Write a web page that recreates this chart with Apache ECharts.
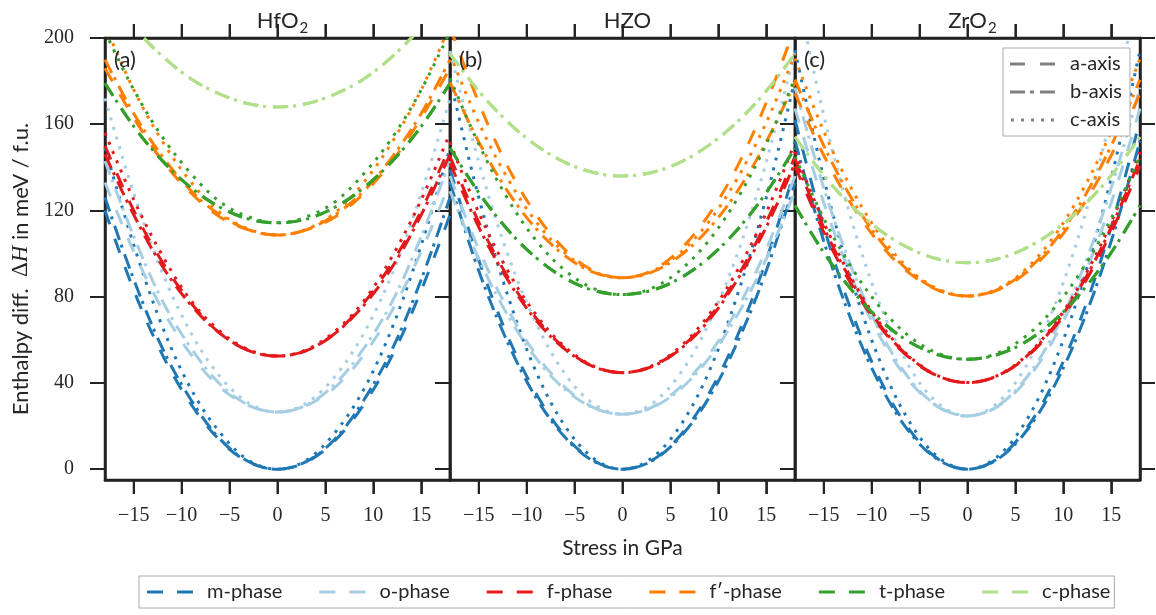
<!DOCTYPE html>
<html>
<head>
<meta charset="utf-8">
<script src="https://cdn.jsdelivr.net/npm/echarts@6/dist/echarts.min.js"></script>
<style>html,body{margin:0;padding:0;background:#fff}#chart{width:1156px;height:615px}</style>
</head>
<body>
<div id="chart"></div>
<script>
// ---- data ----
const stress = [-18, -15, -12, -9, -6, -3, 0, 3, 6, 9, 12, 15, 18];
const xTicks = [-15, -10, -5, 0, 5, 10, 15];
const yTicks = [0, 40, 80, 120, 160, 200];
const panelTitles = ['{n|HfO}{s|2}', '{n|HZO}', '{n|ZrO}{s|2}'];
const panelLabels = ['(a)', '(b)', '(c)'];
const phaseNames = ['m-phase', 'o-phase', 'f-phase', 'f\u2032-phase', 't-phase', 'c-phase'];
const axisNames = ['a-axis', 'b-axis', 'c-axis'];
const phaseColors = ['#1f78b4', '#a6cee3', '#e31a1c', '#ff7f00', '#33a02c', '#b2df8a'];

// HfO2
const hfo2_m_a = [120, 83, 53, 30, 13.3, 3.3, 0, 3.3, 13.3, 30, 53, 83, 118];
const hfo2_m_b = [126, 88, 56, 32, 14, 3.5, 0, 3.5, 14, 32, 56, 88, 126];
const hfo2_m_c = [149, 104, 66, 37, 17, 4.1, 0, 4.1, 17, 37, 66, 104, 149];
const hfo2_o_a = [133, 101, 74, 53, 38, 29.5, 26.5, 29.5, 38, 53, 74, 101, 133];
const hfo2_o_b = [143, 108, 78, 56, 39.5, 29.7, 26.5, 29.7, 39.5, 56, 78, 108, 143];
const hfo2_o_c = [172, 128, 91, 63, 43, 30.6, 26.5, 30.6, 43, 63, 91, 128, 172];
const hfo2_f_a = [150, 120, 96, 77, 63, 55, 52.5, 55, 63, 77, 96, 120, 150];
const hfo2_f_b = [146, 118, 94, 76, 63, 55, 52.5, 55, 63, 76, 94, 118, 146];
const hfo2_f_c = [156, 125, 99, 78, 64, 55.4, 52.5, 55.4, 64, 78, 99, 125, 156];
const hfo2_fp_a = [186, 163, 143, 128, 117, 111, 108.6, 111, 117, 128, 143, 163, 186];
const hfo2_fp_b = [190, 165, 145, 129, 118, 111, 108.6, 111, 118, 129, 145, 165, 190];
const hfo2_fp_c = [206, 176, 152, 133, 119, 111.3, 108.6, 111.3, 119, 133, 152, 176, 206];
const hfo2_t_a = [179, 159, 143, 130.5, 121.5, 116, 114.3, 116, 121.5, 130.5, 143, 159, 179];
const hfo2_t_b = [179, 159, 143, 130.5, 121.5, 116, 114.3, 116, 121.5, 130.5, 143, 159, 179];
const hfo2_t_c = [203, 176, 154, 137, 124, 117, 114.3, 117, 124, 137, 154, 176, 203];
const hfo2_c_a = [221, 205, 191.5, 181, 174, 169.5, 168, 169.5, 174, 181, 191.5, 205, 221];
const hfo2_c_b = [221, 205, 191.5, 181, 174, 169.5, 168, 169.5, 174, 181, 191.5, 205, 221];
const hfo2_c_c = [221, 205, 191.5, 181, 174, 169.5, 168, 169.5, 174, 181, 191.5, 205, 221];

// HZO
const hzo_m_a = [139, 97, 62, 35, 15.5, 3.9, 0, 3.9, 15.5, 35, 62, 97, 139];
const hzo_m_b = [133, 92, 59, 33, 14.8, 3.7, 0, 3.7, 14.8, 33, 59, 92, 133];
const hzo_m_c = [181, 126, 81, 45, 20, 5, 0, 5, 20, 45, 81, 126, 181];
const hzo_o_a = [136, 102, 74.5, 53, 38, 28.6, 25.5, 28.6, 38, 53, 74.5, 102, 136];
const hzo_o_b = [129, 97.5, 71.6, 51.4, 37, 28.4, 25.5, 28.4, 37, 51.4, 71.6, 97.5, 129];
const hzo_o_c = [194, 142.5, 100, 67.6, 44.2, 30.2, 25.5, 30.2, 44.2, 67.6, 100, 142.5, 194];
const hzo_f_a = [145, 114.6, 89.4, 70, 56, 47.6, 44.8, 47.6, 56, 70, 89.4, 114.6, 145];
const hzo_f_b = [142, 112.3, 88, 69, 55.6, 47.5, 44.8, 47.5, 55.6, 69, 88, 112.3, 142];
const hzo_f_c = [151.7, 119, 92.3, 71.5, 56.7, 47.8, 44.8, 47.8, 56.7, 71.5, 92.3, 119, 151.7];
const hzo_fp_a = [205, 170, 140.6, 118, 101.8, 92, 88.8, 92, 101.8, 118, 140.6, 170, 205];
const hzo_fp_b = [179.5, 151.8, 129, 111.5, 99, 91.3, 88.8, 91.3, 99, 111.5, 129, 151.8, 179.5];
const hzo_fp_c = [192.5, 160.8, 135, 114.7, 100.3, 91.7, 88.8, 91.7, 100.3, 114.7, 135, 160.8, 192.5];
const hzo_t_a = [149, 128.3, 111.2, 98, 88.6, 82.9, 81, 82.9, 88.6, 98, 111.2, 128.3, 149];
const hzo_t_b = [149, 128.3, 111.2, 98, 88.6, 82.9, 81, 82.9, 88.6, 98, 111.2, 128.3, 149];
const hzo_t_c = [181.4, 150.8, 125.6, 106, 92.2, 83.8, 81, 83.8, 92.2, 106, 125.6, 150.8, 181.4];
const hzo_c_a = [192.7, 175.4, 161.2, 150.2, 142.3, 137.6, 136, 137.6, 142.3, 150.2, 161.2, 175.4, 192.7];
const hzo_c_b = [192.7, 175.4, 161.2, 150.2, 142.3, 137.6, 136, 137.6, 142.3, 150.2, 161.2, 175.4, 192.7];
const hzo_c_c = [192.7, 175.4, 161.2, 150.2, 142.3, 137.6, 136, 137.6, 142.3, 150.2, 161.2, 175.4, 192.7];

// ZrO2
const zro2_m_a = [162, 112.5, 72, 40.5, 18, 4.5, 0, 4.5, 18, 40.5, 72, 112.5, 162];
const zro2_m_b = [152.3, 105.8, 67.7, 38.1, 16.9, 4.2, 0, 4.2, 16.9, 38.1, 67.7, 105.8, 152.3];
const zro2_m_c = [194.4, 135, 86.4, 48.6, 21.6, 5.4, 0, 5.4, 21.6, 48.6, 86.4, 135, 194.4];
const zro2_o_a = [167.3, 123.7, 88.1, 60.3, 40.5, 28.7, 24.7, 28.7, 40.5, 60.3, 88.1, 123.7, 167.3];
const zro2_o_b = [177, 130.5, 92.4, 62.8, 41.6, 28.9, 24.7, 28.9, 41.6, 62.8, 92.4, 130.5, 177];
const zro2_o_c = [225.6, 164.2, 114, 74.9, 47, 30.3, 24.7, 30.3, 47, 74.9, 114, 164.2, 225.6];
const zro2_f_a = [140.6, 110, 84.8, 65.3, 51.4, 43, 40.2, 43, 51.4, 65.3, 84.8, 110, 140.6];
const zro2_f_b = [143.9, 112.2, 86.3, 66.1, 51.7, 43.1, 40.2, 43.1, 51.7, 66.1, 86.3, 112.2, 143.9];
const zro2_f_c = [147.1, 114.5, 87.7, 66.9, 52.1, 43.2, 40.2, 43.2, 52.1, 66.9, 87.7, 114.5, 147.1];
const zro2_fp_a = [174.3, 145.6, 122.1, 103.8, 90.7, 82.9, 80.3, 82.9, 90.7, 103.8, 122.1, 145.6, 174.3];
const zro2_fp_b = [180.7, 150.1, 124.9, 105.4, 91.5, 83.1, 80.3, 83.1, 91.5, 105.4, 124.9, 150.1, 180.7];
const zro2_fp_c = [190.5, 156.8, 129.3, 107.8, 92.5, 83.4, 80.3, 83.4, 92.5, 107.8, 129.3, 156.8, 190.5];
const zro2_t_a = [122.3, 100.5, 82.7, 68.8, 58.9, 53, 51, 53, 58.9, 68.8, 82.7, 100.5, 122.3];
const zro2_t_b = [122.3, 100.5, 82.7, 68.8, 58.9, 53, 51, 53, 58.9, 68.8, 82.7, 100.5, 122.3];
const zro2_t_c = [145, 116.3, 92.8, 74.5, 61.4, 53.6, 51, 53.6, 61.4, 74.5, 92.8, 116.3, 145];
const zro2_c_a = [154.1, 136.3, 121.7, 110.4, 102.3, 97.4, 95.8, 97.4, 102.3, 110.4, 121.7, 136.3, 154.1];
const zro2_c_b = [154.1, 136.3, 121.7, 110.4, 102.3, 97.4, 95.8, 97.4, 102.3, 110.4, 121.7, 136.3, 154.1];
const zro2_c_c = [154.1, 136.3, 121.7, 110.4, 102.3, 97.4, 95.8, 97.4, 102.3, 110.4, 121.7, 136.3, 154.1];

const panelCurves = [
  [[hfo2_m_a, hfo2_m_b, hfo2_m_c], [hfo2_o_a, hfo2_o_b, hfo2_o_c], [hfo2_f_a, hfo2_f_b, hfo2_f_c],
   [hfo2_fp_a, hfo2_fp_b, hfo2_fp_c], [hfo2_t_a, hfo2_t_b, hfo2_t_c], [hfo2_c_a, hfo2_c_b, hfo2_c_c]],
  [[hzo_m_a, hzo_m_b, hzo_m_c], [hzo_o_a, hzo_o_b, hzo_o_c], [hzo_f_a, hzo_f_b, hzo_f_c],
   [hzo_fp_a, hzo_fp_b, hzo_fp_c], [hzo_t_a, hzo_t_b, hzo_t_c], [hzo_c_a, hzo_c_b, hzo_c_c]],
  [[zro2_m_a, zro2_m_b, zro2_m_c], [zro2_o_a, zro2_o_b, zro2_o_c], [zro2_f_a, zro2_f_b, zro2_f_c],
   [zro2_fp_a, zro2_fp_b, zro2_fp_c], [zro2_t_a, zro2_t_b, zro2_t_c], [zro2_c_a, zro2_c_b, zro2_c_c]]
];

// ---- styling ----
const SANS = 'Lato, "Open Sans", sans-serif';
const SERIF = '"Liberation Serif", "DejaVu Serif", serif';
const INK = '#262626';
const axisDash = [[15, 15], [15, 5, 3, 7], [3, 7]];
const axisIcons = [
  'path://M0 0h15v3h-15zM30 0h15v3h-15z',
  'path://M0 0h15v3h-15zM20 0h4v3h-4zM30 0h15v3h-15z',
  'path://M0 0h3v3h-3zM10 0h3v3h-3zM20 0h3v3h-3zM30 0h3v3h-3zM40 0h3v3h-3z'
];
const phaseIcon = 'path://M0 0h16v3h-16zM30 0h16v3h-16z';
const GRID_LEFT = 105, GRID_W = 345, GRID_TOP = 38, GRID_H = 442;
const fmt = v => (v < 0 ? '\u2212' + (-v) : String(v));
const tick = (len, values, color) => ({show: true, customValues: values.slice(), length: len, lineStyle: {color: color, width: 2}});
const frame = () => ({show: true, onZero: false, lineStyle: {color: '#222', width: 2.5}});

const grids = [], xAxes = [], yAxes = [], series = [], titles = [];
for (let p = 0; p < 3; p++) {
  const left = GRID_LEFT + GRID_W * p;
  grids.push({left: left, top: GRID_TOP, width: GRID_W, height: GRID_H, show: true,
    borderColor: '#222', borderWidth: 2.5});
  titles.push({text: panelTitles[p], left: left + GRID_W / 2, top: 5, textAlign: 'center',
    textStyle: {fontWeight: 'normal', rich: {
      n: {fontFamily: SANS, fontSize: 22, fontWeight: 'normal', color: INK, verticalAlign: 'top'},
      s: {fontFamily: SANS, fontSize: 15, fontWeight: 'normal', color: INK, verticalAlign: 'top', padding: [11, 0, 0, 1]}
    }}});
  titles.push({text: panelLabels[p], left: left + 9, top: 49, padding: 0,
    textStyle: {fontFamily: SANS, fontSize: 22, fontWeight: 'normal', color: INK}});
}
// bottom x axes (0..2)
for (let p = 0; p < 3; p++) {
  const ax = {type: 'value', gridIndex: p, position: 'bottom', min: -18, max: 18,
    axisLine: frame(), splitLine: {show: false},
    axisTick: tick(14, xTicks, '#333'),
    axisLabel: {show: true, customValues: xTicks.slice(), formatter: fmt, margin: 26,
      fontFamily: SERIF, fontSize: 20, color: INK}
  };
  if (p === 1) {
    ax.name = 'Stress in GPa'; ax.nameLocation = 'middle'; ax.nameGap = 58;
    ax.nameTextStyle = {fontFamily: SANS, fontSize: 21, color: INK};
  }
  xAxes.push(ax);
}
// top x axes (3..5), ticks only
for (let p = 0; p < 3; p++) {
  xAxes.push({type: 'value', gridIndex: p, position: 'top', min: -18, max: 18,
    axisLine: frame(), splitLine: {show: false},
    axisLabel: {show: false, customValues: xTicks.slice()},
    axisTick: tick(14, xTicks, '#333')
  });
}
// left y axes (0..2)
for (let p = 0; p < 3; p++) {
  const ax = {type: 'value', gridIndex: p, position: 'left', min: -5, max: 200,
    axisLine: frame(), splitLine: {show: false},
    axisTick: tick(15, yTicks, '#222'),
    axisLabel: {show: p === 0, customValues: yTicks.slice(), formatter: fmt, margin: 31,
      fontFamily: SERIF, fontSize: 20, color: INK}
  };
  if (p === 0) {
    ax.name = '{s|Enthalpy diff.  }{m|\u0394}{i|H}{s| in meV / f.u.}';
    ax.nameLocation = 'middle'; ax.nameRotate = 90; ax.nameGap = 73;
    ax.nameTextStyle = {padding: [0, 20, 0, 0], rich: {
      s: {fontFamily: SANS, fontSize: 22, color: INK},
      m: {fontFamily: SERIF, fontSize: 23, color: INK},
      i: {fontFamily: SERIF, fontSize: 23, fontStyle: 'italic', color: INK}
    }};
  }
  yAxes.push(ax);
}
// right y axis on third panel (3)
yAxes.push({type: 'value', gridIndex: 2, position: 'right', min: -5, max: 200,
  axisLine: frame(), splitLine: {show: false},
  axisLabel: {show: false, customValues: yTicks.slice()},
  axisTick: tick(15, yTicks, '#222')
});

for (let p = 0; p < 3; p++) {
  for (let ph = 0; ph < phaseNames.length; ph++) {
    for (let a = 0; a < 3; a++) {
      const ys = panelCurves[p][ph][a];
      series.push({
        type: 'line', name: phaseNames[ph], xAxisIndex: p, yAxisIndex: p,
        data: stress.map((x, i) => [x, ys[i]]),
        smooth: 0.35, showSymbol: false, symbol: 'none', clip: true, silent: true,
        color: phaseColors[ph],
        lineStyle: {color: phaseColors[ph], width: 3, type: axisDash[a], cap: 'butt'},
        emphasis: {disabled: true}
      });
    }
  }
  // stress tick marks above and below each panel, positioned by the axis scales
  series.push({
    type: 'custom', xAxisIndex: p, yAxisIndex: p, clip: false, silent: true, z: 20,
    data: xTicks.map(v => [v, -5]),
    renderItem: (params, api) => {
      const bottom = api.coord([api.value(0), -5]);
      const top = api.coord([api.value(0), 200]);
      return {type: 'group', children: [
        {type: 'line', shape: {x1: bottom[0], y1: bottom[1], x2: bottom[0], y2: bottom[1] + 14},
          style: {stroke: '#222', lineWidth: 2}},
        {type: 'line', shape: {x1: top[0], y1: top[1] - 14, x2: top[0], y2: top[1]},
          style: {stroke: '#222', lineWidth: 2}}
      ]};
    }
  });
}
// legend-only entries for the axis line styles (no data)
for (let a = 0; a < 3; a++) {
  series.push({type: 'line', name: axisNames[a], xAxisIndex: 2, yAxisIndex: 2, data: [],
    color: '#808080', lineStyle: {color: '#808080', width: 3, type: axisDash[a]}, silent: true});
}

const chart = echarts.init(document.getElementById('chart'));
chart.setOption({
  animation: false,
  backgroundColor: '#fff',
  title: titles,
  grid: grids,
  xAxis: xAxes,
  yAxis: yAxes,
  legend: [
    {
      data: phaseNames.map(n => ({name: n, icon: phaseIcon})),
      orient: 'horizontal', left: 139, top: 576,
      itemWidth: 46, itemHeight: 3, itemGap: 37,
      padding: [6, 4, 6, 8], backgroundColor: '#fff', borderColor: '#aaa', borderWidth: 1,
      itemStyle: {borderWidth: 0},
      textStyle: {fontFamily: SANS, fontSize: 20, color: INK, padding: [0, 0, 0, 9]},
      selectedMode: false
    },
    {
      data: axisNames.map((n, i) => ({name: n, icon: axisIcons[i]})),
      orient: 'vertical', left: 1003, top: 48,
      itemWidth: 45, itemHeight: 3, itemGap: 8,
      padding: [6, 8, 6, 7], backgroundColor: '#fff', borderColor: '#aaa', borderWidth: 1,
      itemStyle: {borderWidth: 0},
      textStyle: {fontFamily: SANS, fontSize: 20, color: INK, padding: [0, 0, 0, 10]},
      selectedMode: false
    }
  ],
  series: series
});
</script>
</body>
</html>
